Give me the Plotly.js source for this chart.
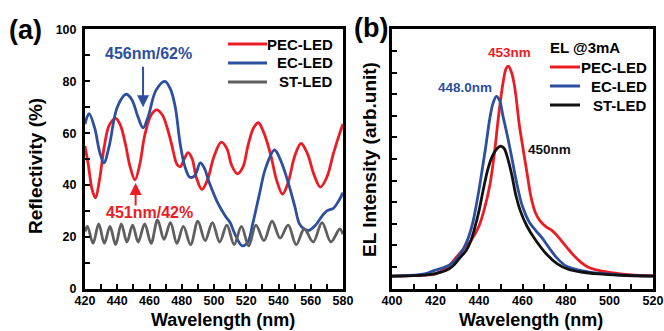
<!DOCTYPE html>
<html>
<head>
<meta charset="utf-8">
<script src="https://cdn.plot.ly/plotly-3.0.1.min.js"></script>
<style>
  html, body { margin: 0; padding: 0; background: #fff; }
  #chart { width: 664px; height: 331px; }
</style>
</head>
<body>
<div id="chart"></div>
<script>
// (a) Reflectivity spectra
const pecReflWl = [420, 422, 424.5, 426.5, 429, 432, 435, 439, 442, 445, 448, 451, 454, 457, 461, 464.5, 468, 471, 474, 477, 479, 481.5, 484, 486.5, 489, 492.5, 496, 500, 504.5, 508, 511, 514.5, 518, 521, 524.5, 527.5, 531, 535, 539, 542.5, 546, 550, 554, 558, 562, 566, 570, 574, 578, 580];
const pecRefl   = [55, 48, 38, 35, 42, 55, 63, 65.7, 63, 56, 47, 42, 48, 59, 67, 69, 67, 62, 55, 48, 47, 50, 52.5, 50, 43, 38.3, 42, 51, 56.5, 54, 47.5, 44.3, 47, 55, 62, 64, 60, 52, 41.5, 36.5, 41, 51, 56, 52, 44, 39.2, 43, 52, 60, 63.5];

const ecReflWl = [420, 422.5, 426, 429, 431.7, 435, 440, 445.5, 449, 453, 456, 459, 464, 469.5, 473, 476, 479, 482, 485, 488, 491.5, 494, 497, 502, 507, 510, 513, 517.5, 521, 524, 528, 532, 537.5, 541, 545, 550, 553, 556, 559, 563, 567, 570, 574, 577, 580];
const ecRefl   = [63.5, 67.5, 62, 53, 48.5, 55, 70, 75, 73, 66, 62, 66, 76.5, 80, 77, 70, 56, 47, 43, 43.5, 48.5, 46.5, 41, 33.5, 28, 25.5, 21, 16.5, 18, 25, 36, 46.5, 53.5, 50, 43, 32, 25, 23, 22.5, 24.5, 28, 30, 31, 33.5, 37];

const stReflWl = [420, 421.5, 425, 428.5, 432, 435.5, 439, 442.5, 446, 449.5, 453, 457, 461, 465, 469, 473, 477, 481, 485.5, 490, 494.5, 499, 503.5, 508, 512.5, 517, 521.5, 526, 531, 536, 541, 546, 551, 556, 561.5, 567, 572.5, 578, 580];
const stRefl   = [22, 24, 17.5, 25, 17.5, 24, 17, 25, 18, 24.5, 18, 25, 17.5, 26.5, 19, 25.5, 17.5, 24, 17, 26, 18.5, 25.5, 18, 24.5, 17, 24, 16.5, 24.5, 18.5, 26, 19.5, 24.5, 17, 23, 18, 25.5, 18, 23, 21];

// (b) Electroluminescence spectra at 3 mA
const pecElWl = [400, 410, 415, 420, 425, 430, 433, 436.5, 440, 442.5, 445, 447, 449, 451, 452.5, 453.5, 455, 456.6, 458.5, 460.4, 462, 464, 466, 468, 471, 473.5, 475.5, 478, 480.5, 483, 486.5, 490, 494, 500, 505, 510, 520];
const pecEl   = [0.058, 0.060, 0.063, 0.068, 0.095, 0.15, 0.185, 0.225, 0.29, 0.37, 0.48, 0.62, 0.80, 0.95, 1.02, 1.03, 1.0, 0.92, 0.76, 0.64, 0.54, 0.42, 0.35, 0.315, 0.285, 0.27, 0.25, 0.22, 0.19, 0.16, 0.125, 0.1, 0.087, 0.075, 0.068, 0.064, 0.06];

const ecElWl = [400, 410, 415, 419, 423, 428, 432, 434.5, 437, 439, 441, 443, 445, 446.5, 448, 449.5, 451, 453, 455, 457.3, 460, 463, 466, 469, 472.5, 476, 480, 485, 490, 496, 505, 520];
const ecEl   = [0.058, 0.062, 0.068, 0.082, 0.095, 0.12, 0.17, 0.22, 0.30, 0.40, 0.52, 0.65, 0.79, 0.86, 0.89, 0.87, 0.80, 0.71, 0.61, 0.49, 0.38, 0.31, 0.27, 0.235, 0.185, 0.14, 0.105, 0.088, 0.078, 0.07, 0.064, 0.058];

const stElWl = [400, 410, 415, 420, 425, 428, 431, 434, 436, 438, 440, 442, 444, 446, 448, 450, 451.5, 453, 455, 457, 459, 462, 466, 471, 476, 481, 487, 495, 505, 520];
const stEl   = [0.058, 0.060, 0.063, 0.07, 0.085, 0.105, 0.14, 0.175, 0.215, 0.28, 0.36, 0.46, 0.55, 0.61, 0.645, 0.66, 0.65, 0.61, 0.53, 0.43, 0.36, 0.29, 0.225, 0.16, 0.115, 0.09, 0.077, 0.068, 0.062, 0.058];

const seriesNames = ['PEC-LED', 'EC-LED', 'ST-LED'];

const RED = '#ec1c24';
const BLUE = '#2d4f9f';
const GRAY = '#5f5f5f';
const BLACK = '#111111';
const FONT = 'Liberation Sans, Arial, sans-serif';
const W = 664, H = 331;

// pixel position -> paper fraction
const px = v => v / W;
const py = v => 1 - v / H;

const curve = (x, y, name, color, xa, ya) => ({
  x, y, name, type: 'scatter', mode: 'lines',
  line: { color, width: 2.8, shape: 'spline', smoothing: 1 },
  xaxis: xa, yaxis: ya, hoverinfo: 'skip', showlegend: false
});

const data = [
  curve(pecReflWl, pecRefl, seriesNames[0], RED, 'x', 'y'),
  curve(ecReflWl, ecRefl, seriesNames[1], BLUE, 'x', 'y'),
  curve(stReflWl, stRefl, seriesNames[2], GRAY, 'x', 'y'),
  curve(pecElWl, pecEl, seriesNames[0], RED, 'x2', 'y2'),
  curve(ecElWl, ecEl, seriesNames[1], BLUE, 'x2', 'y2'),
  curve(stElWl, stEl, seriesNames[2], BLACK, 'x2', 'y2')
];

const tickStyle = { ticks: 'inside', ticklen: 5, tickwidth: 2, tickcolor: '#000' };
const frame = Object.assign({
  showline: true, linewidth: 3, linecolor: '#000', mirror: true,
  showgrid: false, zeroline: false, fixedrange: true,
  tickfont: { family: FONT, size: 12.5, color: '#000', weight: 'bold' }
}, tickStyle);

const yDom = [0.128, 0.911];

const bold = (size, color) => ({ family: FONT, size, color: color || '#000', weight: 'bold' });
const label = (x, y, text, size, color, extra) => Object.assign({
  xref: 'paper', yref: 'paper', x: px(x), y: py(y), text, showarrow: false,
  xanchor: 'center', yanchor: 'middle', font: bold(size, color)
}, extra || {});

// hand-placed legend keys for both panels
const legendA = { lineX: [228, 267], textRight: 335, rows: [44, 63, 82], colors: [RED, BLUE, GRAY] };
const legendB = { lineX: [550, 580], textRight: 649, rows: [67, 86, 105], colors: [RED, BLUE, BLACK] };

const shapes = [];
const annotations = [];
[legendA, legendB].forEach(lg => {
  lg.rows.forEach((yy, i) => {
    shapes.push({ type: 'line', xref: 'paper', yref: 'paper',
      x0: px(lg.lineX[0]), x1: px(lg.lineX[1]), y0: py(yy), y1: py(yy),
      line: { color: lg.colors[i], width: 3 } });
    annotations.push(label(lg.textRight, yy, seriesNames[i], 15, '#000', { xanchor: 'right' }));
  });
});

annotations.push(
  label(548, 47, 'EL @3mA', 15, '#000', { xanchor: 'left' }),
  label(25, 30, '(a)', 27),
  label(371, 28, '(b)', 27),
  label(223, 320, 'Wavelength (nm)', 18, '#000', { borderpad: 0 }),
  label(531, 320, 'Wavelength (nm)', 18, '#000', { borderpad: 0 }),
  label(35, 166, 'Reflectivity (%)', 19, '#000', { textangle: -90 }),
  label(369, 160, 'EL Intensity (arb.unit)', 19, '#000', { textangle: -90 }),
  { xref: 'x', yref: 'y', x: 459.1, y: 90.8, text: '456nm/62%', showarrow: false,
    font: bold(16, BLUE) },
  { xref: 'x', yref: 'y', x: 456, y: 70, axref: 'x', ayref: 'y', ax: 456, ay: 86.2,
    text: '', showarrow: true, arrowhead: 2, arrowsize: 1.2, arrowwidth: 2, arrowcolor: BLUE },
  { xref: 'x', yref: 'y', x: 460.3, y: 29.2, text: '451nm/42%', showarrow: false,
    font: bold(16, RED) },
  { xref: 'x', yref: 'y', x: 451.4, y: 40.8, axref: 'x', ayref: 'y', ax: 451.4, ay: 31.5,
    text: '', showarrow: true, arrowhead: 2, arrowsize: 1.2, arrowwidth: 2, arrowcolor: RED },
  { xref: 'x2', yref: 'y2', x: 453.8, y: 1.093, text: '453nm', showarrow: false,
    font: bold(13.5, RED) },
  { xref: 'x2', yref: 'y2', x: 433.6, y: 0.93, text: '448.0nm', showarrow: false,
    font: bold(13.5, BLUE) },
  { xref: 'x2', yref: 'y2', x: 472.2, y: 0.642, text: '450nm', showarrow: false,
    font: bold(13.5, BLACK) }
);

const layout = {
  width: W, height: H,
  margin: { l: 0, r: 0, t: 0, b: 0 },
  paper_bgcolor: '#fff', plot_bgcolor: '#fff',
  showlegend: false,
  xaxis: Object.assign({}, frame, {
    domain: [px(85), 343 / W], range: [420, 580], dtick: 20, tick0: 420,
    ticklabelstandoff: -2,
    minor: Object.assign({ dtick: 10 }, tickStyle)
  }),
  yaxis: Object.assign({}, frame, {
    domain: yDom, range: [0, 100], dtick: 20, ticklabelstandoff: 3,
    minor: Object.assign({ dtick: 10 }, tickStyle)
  }),
  xaxis2: Object.assign({}, frame, {
    domain: [px(392), 653 / W], range: [400, 520], dtick: 20, tick0: 400,
    anchor: 'y2', ticklabelstandoff: -2,
    minor: Object.assign({ dtick: 10 }, tickStyle)
  }),
  yaxis2: Object.assign({}, frame, {
    domain: yDom, range: [0, 1.2], dtick: 0.1, anchor: 'x2',
    showticklabels: false
  }),
  shapes,
  annotations
};

Plotly.newPlot('chart', data, layout, { staticPlot: true, displayModeBar: false });
</script>
</body>
</html>
